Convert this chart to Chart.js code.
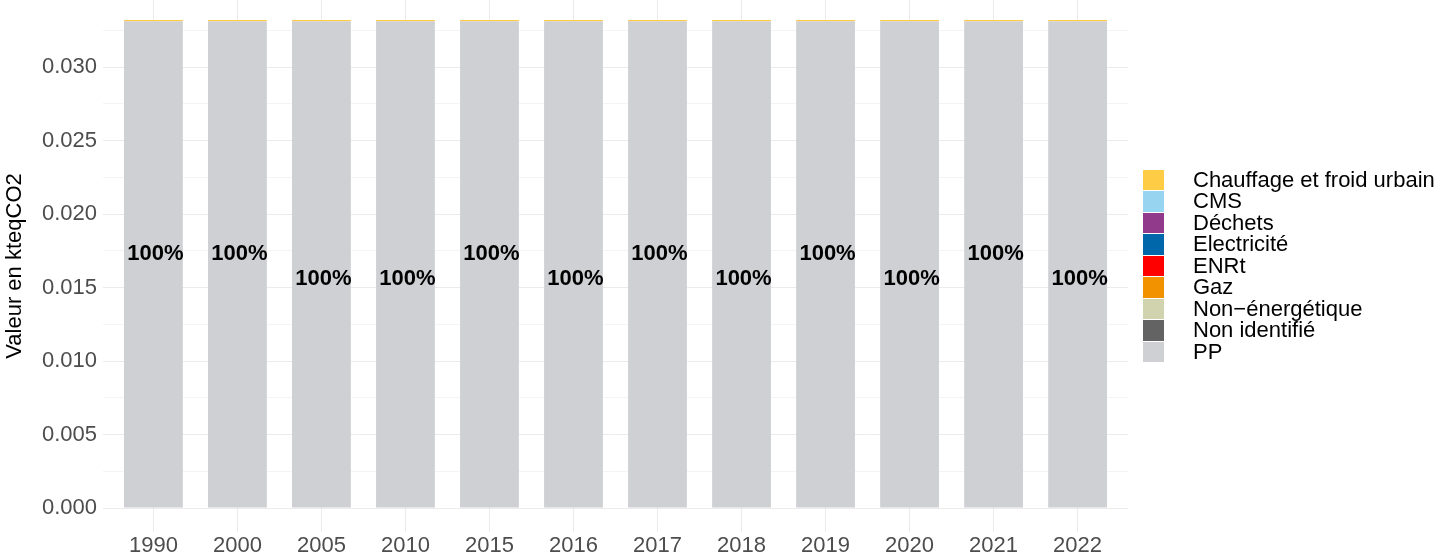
<!DOCTYPE html>
<html>
<head>
<meta charset="utf-8">
<script src="https://cdn.jsdelivr.net/npm/chart.js@4"></script>
<style>
  body { margin: 0; background: #fff; }
  #wrap { position: relative; width: 1437px; height: 557px; }
  #legend { position: absolute; left: 1143px; top: 170px; font-family: "Liberation Sans", Arial, sans-serif; font-size: 22px; color: #000; }
  .item { position: relative; height: 21.45px; }
  .sw { position: absolute; left: 0; top: 0; width: 21px; height: 20.45px; }
  .lbl { position: absolute; left: 50px; top: -1px; white-space: nowrap; line-height: 22px; }
</style>
</head>
<body>
<div id="wrap">
  <canvas id="myChart" width="1437" height="557"></canvas>
  <div id="legend"></div>
</div>
<script>
// data
var years = ["1990", "2000", "2005", "2010", "2015", "2016", "2017", "2018", "2019", "2020", "2021", "2022"];
var ppValues = [0.03312, 0.03312, 0.03312, 0.03312, 0.03312, 0.03312, 0.03312, 0.03312, 0.03312, 0.03312, 0.03312, 0.03312];
var chauffageValues = [0.00008, 0.00008, 0.00008, 0.00008, 0.00008, 0.00008, 0.00008, 0.00008, 0.00008, 0.00008, 0.00008, 0.00008];
var zeroValues = [0, 0, 0, 0, 0, 0, 0, 0, 0, 0, 0, 0];
// where the "100%" labels sit (value units)
var labelY = [0.0173, 0.0173, 0.0156, 0.0156, 0.0173, 0.0156, 0.0173, 0.0156, 0.0173, 0.0156, 0.0173, 0.0156];
var yTicks = [0, 0.0025, 0.005, 0.0075, 0.01, 0.0125, 0.015, 0.0175, 0.02, 0.0225, 0.025, 0.0275, 0.03, 0.0325];

var legendNames = ["Chauffage et froid urbain", "CMS", "Déchets", "Electricité", "ENRt", "Gaz", "Non\u2212énergétique", "Non identifié", "PP"];
var legendColors = ["#FFCD45", "#96D4F0", "#913A8C", "#0067AB", "#FF0000", "#F39200", "#D0D3AE", "#636363", "#CFD0D3"];
var seriesValues = [chauffageValues, zeroValues, zeroValues, zeroValues, zeroValues, zeroValues, zeroValues, zeroValues, ppValues];

var font = "Liberation Sans, Arial, sans-serif";

// stacked bottom to top: PP first, Chauffage last
var datasets = [];
for (var s = legendNames.length - 1; s >= 0; s--) {
  datasets.push({
    label: legendNames[s],
    backgroundColor: legendColors[s],
    borderWidth: 0,
    data: seriesValues[s].map(function (v, i) { return {x: i, y: v}; }),
    categoryPercentage: 1,
    barPercentage: 0.7
  });
}

var pctLabels = {
  id: "pctLabels",
  afterDatasetsDraw: function (chart) {
    var ctx = chart.ctx;
    var xs = chart.scales.x, ys = chart.scales.y;
    ctx.save();
    ctx.font = "bold 22px " + font;
    ctx.fillStyle = "#000";
    ctx.textAlign = "center";
    ctx.textBaseline = "middle";
    years.forEach(function (y, i) {
      var total = ppValues[i] + chauffageValues[i];
      var txt = Math.round(ppValues[i] / total * 100) + "%";
      ctx.fillText(txt, xs.getPixelForValue(i) + 2, ys.getPixelForValue(labelY[i]));
    });
    ctx.restore();
  }
};

var mychart = new Chart("myChart", {
  type: "bar",
  data: { datasets: datasets },
  plugins: [pctLabels],
  options: {
    responsive: false,
    animation: false,
    layout: { padding: { left: 0, right: 309, top: 0, bottom: 0 } },
    plugins: { legend: { display: false }, tooltip: { enabled: false } },
    scales: {
      x: {
        type: "linear",
        stacked: true,
        offset: false,
        min: -0.6,
        max: 11.6,
        afterBuildTicks: function (scale) {
          scale.ticks = years.map(function (y, i) { return {value: i}; });
        },
        afterFit: function (scale) {
          scale.height = 25;
          scale.paddingLeft = 0;
          scale.paddingRight = 0;
        },
        border: { display: false },
        grid: { offset: false, drawTicks: false, color: "#EBEBEB", lineWidth: 1 },
        ticks: {
          padding: 1,
          color: "#4D4D4D",
          font: { family: font, size: 22 },
          maxRotation: 0,
          autoSkip: false,
          callback: function (v) { return years[v]; }
        }
      },
      y: {
        stacked: true,
        min: -0.00163,
        max: 0.03456,
        afterBuildTicks: function (scale) {
          scale.ticks = yTicks.map(function (v) { return {value: v}; });
        },
        afterFit: function (scale) {
          scale.width = 103;
          scale.paddingTop = 0;
          scale.paddingBottom = 0;
        },
        border: { display: false },
        title: { display: true, text: "Valeur en kteqCO2", color: "#000", font: { family: font, size: 22 }, padding: { top: 2, bottom: 4 } },
        grid: {
          drawTicks: false,
          color: function (c) { return Math.round(c.tick.value * 10000) % 50 === 0 ? "#EBEBEB" : "#F4F4F4"; },
          lineWidth: 1
        },
        ticks: {
          padding: 6,
          color: "#4D4D4D",
          font: { family: font, size: 22 },
          callback: function (v) { return Math.round(v * 10000) % 50 === 0 ? v.toFixed(3) : ""; }
        }
      }
    }
  }
});

// html legend
var leg = document.querySelector("#legend");
legendNames.forEach(function (n, i) {
  var item = document.createElement("div");
  item.className = "item";
  var sw = document.createElement("div");
  sw.className = "sw";
  sw.style.background = legendColors[i];
  var lbl = document.createElement("div");
  lbl.className = "lbl";
  lbl.textContent = n;
  item.appendChild(sw);
  item.appendChild(lbl);
  leg.appendChild(item);
});
</script>
</body>
</html>
